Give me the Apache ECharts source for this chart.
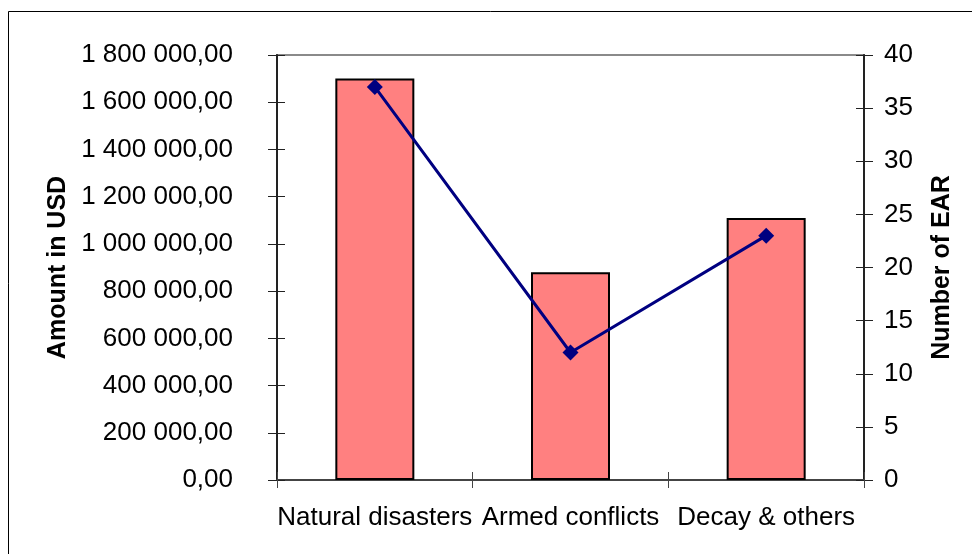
<!DOCTYPE html>
<html>
<head>
<meta charset="utf-8">
<script src="https://cdn.jsdelivr.net/npm/echarts@6/dist/echarts.min.js"></script>
<style>
  html, body { margin: 0; padding: 0; background: #fff; }
  #chart { width: 972px; height: 554px; }
</style>
</head>
<body>
<div id="chart"></div>
<script>
const categories = ['Natural disasters', 'Armed conflicts', 'Decay & others'];
const amountsUSD = [1700000, 880000, 1110000];
const earCounts = [37, 12, 23];
const leftTicks = { min: 0, max: 1800000, interval: 200000 };
const rightTicks = { min: 0, max: 40, interval: 5 };

const FONT = "'Liberation Sans', Arial, sans-serif";

function fmtAmount(v) {
  return Math.round(v).toString().replace(/\B(?=(\d{3})+(?!\d))/g, ' ') + ',00';
}

const chart = echarts.init(document.getElementById('chart'), null, { renderer: 'canvas' });

const option = {
  backgroundColor: '#ffffff',
  animation: false,
  textStyle: { fontFamily: FONT },
  graphic: [
    {
      type: 'rect',
      silent: true,
      shape: { x: 8.5, y: 11.5, width: 1200, height: 800 },
      style: { fill: 'none', stroke: '#000', lineWidth: 1 }
    },
    {
      type: 'text',
      silent: true,
      left: 3,
      top: -29,
      style: {
        text: 'Types of emergency',
        font: "bold 30px 'Liberation Sans', Arial, sans-serif",
        fill: '#000'
      }
    }
  ],
  grid: {
    left: 277, right: 108, top: 55, bottom: 74,
    show: true, borderColor: '#8a8a8a', borderWidth: 2, backgroundColor: 'transparent'
  },
  xAxis: [
    {
      type: 'category',
      data: categories,
      position: 'bottom',
      boundaryGap: true,
      axisLine: { show: true, lineStyle: { color: '#444', width: 2 } },
      axisTick: { show: true, inside: false, length: 8, alignWithLabel: false, lineStyle: { color: '#444', width: 1 } },
      axisLabel: { color: '#000', fontSize: 26, fontFamily: FONT, margin: 25, interval: 0 },
      splitLine: { show: false }
    },
    {
      type: 'category',
      data: categories,
      position: 'bottom',
      boundaryGap: true,
      axisLine: { show: false },
      axisTick: { show: true, inside: true, length: 8, alignWithLabel: false, lineStyle: { color: '#444', width: 1 } },
      axisLabel: { show: false },
      splitLine: { show: false }
    }
  ],
  yAxis: [
    {
      type: 'value',
      position: 'left',
      min: leftTicks.min, max: leftTicks.max, interval: leftTicks.interval,
      name: 'Amount in USD',
      nameLocation: 'middle',
      nameRotate: 90,
      nameGap: 201,
      nameTextStyle: { color: '#000', fontSize: 25, fontWeight: 'bold', fontFamily: FONT },
      axisLine: { show: true, lineStyle: { color: '#222', width: 2 } },
      axisTick: { show: true, inside: false, length: 9, lineStyle: { color: '#222', width: 1 } },
      axisLabel: { color: '#000', fontSize: 26, fontFamily: FONT, margin: 44, formatter: fmtAmount },
      splitLine: { show: false }
    },
    {
      type: 'value',
      position: 'right',
      min: rightTicks.min, max: rightTicks.max, interval: rightTicks.interval,
      name: 'Number of EAR',
      nameLocation: 'middle',
      nameRotate: 90,
      nameGap: 66,
      nameTextStyle: { color: '#000', fontSize: 25, fontWeight: 'bold', fontFamily: FONT },
      axisLine: { show: true, lineStyle: { color: '#222', width: 2 } },
      axisTick: { show: true, inside: false, length: 9, lineStyle: { color: '#222', width: 1 } },
      axisLabel: { color: '#000', fontSize: 26, fontFamily: FONT, margin: 20 },
      splitLine: { show: false }
    },
    {
      type: 'value',
      position: 'left',
      min: leftTicks.min, max: leftTicks.max, interval: leftTicks.interval,
      axisLine: { show: false },
      axisTick: { show: true, inside: true, length: 8, lineStyle: { color: '#222', width: 1 } },
      axisLabel: { show: false },
      splitLine: { show: false }
    },
    {
      type: 'value',
      position: 'right',
      min: rightTicks.min, max: rightTicks.max, interval: rightTicks.interval,
      axisLine: { show: false },
      axisTick: { show: true, inside: true, length: 8, lineStyle: { color: '#222', width: 1 } },
      axisLabel: { show: false },
      splitLine: { show: false }
    }
  ],
  series: [
    {
      name: 'Amount in USD',
      type: 'bar',
      xAxisIndex: 0,
      yAxisIndex: 0,
      data: amountsUSD,
      barWidth: 79,
      itemStyle: { color: '#FF8080', borderColor: '#000', borderWidth: 2 },
      z: 2
    },
    {
      name: 'Number of EAR',
      type: 'line',
      xAxisIndex: 0,
      yAxisIndex: 1,
      data: earCounts,
      symbol: 'diamond',
      symbolSize: 16,
      lineStyle: { color: '#000080', width: 3 },
      itemStyle: { color: '#000080' },
      z: 3
    }
  ]
};

chart.setOption(option);
</script>
</body>
</html>
